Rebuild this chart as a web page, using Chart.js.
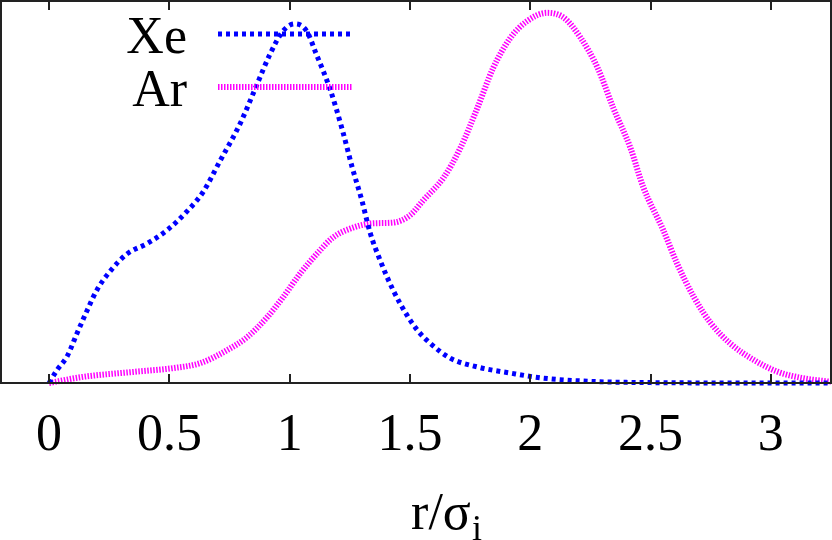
<!DOCTYPE html>
<html>
<head>
<meta charset="utf-8">
<script src="https://cdn.jsdelivr.net/npm/chart.js@4/dist/chart.umd.min.js"></script>
<style>
html,body{margin:0;padding:0;background:#fff;}
#wrap{width:832px;height:540px;position:relative;}
</style>
</head>
<body>
<div id="wrap"><canvas id="c" width="832" height="540"></canvas></div>
<script>
// ---- data ----
const seriesNames = ["Xe", "Ar"];
const xeR = [0, 0.033, 0.075, 0.116, 0.158, 0.2, 0.254, 0.324, 0.407, 0.49, 0.574, 0.64, 0.711, 0.794, 0.865, 0.919, 0.973, 1.02, 1.07, 1.11, 1.17, 1.22, 1.26, 1.30, 1.335, 1.376, 1.43, 1.49, 1.535, 1.584, 1.667, 1.78, 1.917, 2.05, 2.26, 2.5, 3.0, 3.25];
const xeG = [0, 0.034, 0.07, 0.13, 0.19, 0.245, 0.293, 0.338, 0.365, 0.40, 0.45, 0.50, 0.582, 0.679, 0.783, 0.862, 0.922, 0.94, 0.922, 0.862, 0.765, 0.66, 0.564, 0.478, 0.392, 0.321, 0.243, 0.175, 0.135, 0.104, 0.065, 0.042, 0.026, 0.013, 0.004, 0.001, 0, 0];
const arR = [0, 0.14, 0.35, 0.516, 0.628, 0.74, 0.823, 0.906, 0.973, 1.044, 1.114, 1.18, 1.264, 1.347, 1.43, 1.50, 1.555, 1.64, 1.71, 1.78, 1.846, 1.917, 1.988, 2.07, 2.14, 2.21, 2.28, 2.345, 2.416, 2.47, 2.553, 2.61, 2.68, 2.75, 2.83, 2.93, 3.03, 3.13, 3.25];
const arG = [0, 0.016, 0.029, 0.039, 0.052, 0.086, 0.12, 0.172, 0.225, 0.287, 0.339, 0.381, 0.407, 0.418, 0.42, 0.439, 0.478, 0.538, 0.616, 0.72, 0.825, 0.903, 0.948, 0.969, 0.956, 0.903, 0.825, 0.72, 0.616, 0.512, 0.40, 0.313, 0.225, 0.157, 0.104, 0.06, 0.029, 0.013, 0.003];
const tickValues = [0, 0.5, 1, 1.5, 2, 2.5, 3];
const tickLabels = ["0", "0.5", "1", "1.5", "2", "2.5", "3"];
const axisTitle = "r/σ";
const axisTitleSub = "i";

const FONT = '"Liberation Serif", "Times New Roman", serif';

function pts(xs, ys){ return xs.map((x,i)=>({x:x, y:ys[i]})); }

const framePlugin = {
  id: 'frame',
  afterDatasetsDraw(chart){
    const ctx = chart.ctx, a = chart.chartArea, xs = chart.scales.x;
    ctx.save();
    ctx.strokeStyle = '#222';
    ctx.lineWidth = 2;
    ctx.strokeRect(a.left, a.top, a.right - a.left, a.bottom - a.top);
    ctx.beginPath();
    tickValues.forEach(v=>{
      const px = Math.round(xs.getPixelForValue(v));
      ctx.moveTo(px, a.bottom); ctx.lineTo(px, a.bottom - 9);
      ctx.moveTo(px, a.top); ctx.lineTo(px, a.top + 9);
    });
    ctx.stroke();
    // legend
    ctx.font = '52px ' + FONT;
    ctx.fillStyle = '#000';
    ctx.textAlign = 'right';
    ctx.textBaseline = 'alphabetic';
    const rows = [{ty:53, ly:34}, {ty:106, ly:87}];
    chart.data.datasets.forEach((ds, i)=>{
      const r = rows[i];
      ctx.fillText(ds.label, a.left + 186, r.ty);
      ctx.save();
      ctx.strokeStyle = ds.borderColor;
      ctx.lineWidth = ds.borderWidth;
      ctx.setLineDash(ds.borderDash);
      ctx.beginPath();
      ctx.moveTo(a.left + 217, r.ly); ctx.lineTo(a.left + 352, r.ly);
      ctx.stroke();
      ctx.restore();
    });
    // axis title with subscript
    ctx.textAlign = 'left';
    ctx.font = '52px ' + FONT;
    const w = ctx.measureText(axisTitle).width;
    ctx.font = '36px ' + FONT;
    const ws = ctx.measureText(axisTitleSub).width;
    const cx = (a.left + a.right) / 2 + 30;
    const x0 = cx - (w + ws) / 2;
    ctx.font = '52px ' + FONT;
    ctx.fillText(axisTitle, x0, 529);
    ctx.font = '36px ' + FONT;
    ctx.fillText(axisTitleSub, x0 + w + 1, 540);
    ctx.restore();
  }
};

new Chart(document.getElementById('c'), {
  type: 'line',
  data: {
    datasets: [
      { label: seriesNames[0], data: pts(xeR, xeG), borderColor: '#0000ff', borderWidth: 5, borderDash: [4,4], pointRadius: 0, cubicInterpolationMode: 'monotone', fill: false, clip: 10 },
      { label: seriesNames[1], data: pts(arR, arG), borderColor: '#ff00ff', borderWidth: 6, borderDash: [1.5,1.5], pointRadius: 0, cubicInterpolationMode: 'monotone', fill: false, clip: 10 }
    ]
  },
  options: {
    responsive: false,
    animation: false,
    layout: { padding: { left: 1, right: 1, top: 1, bottom: 0 } },
    plugins: { legend: { display: false }, tooltip: { enabled: false } },
    scales: {
      x: {
        type: 'linear', min: -0.2, max: 3.25,
        grid: { display: false, drawTicks: false },
        border: { display: false },
        afterBuildTicks(scale){ scale.ticks = tickValues.map(v=>({value:v})); },
        afterFit(scale){ scale.height = 157; },
        ticks: {
          color: '#000', padding: 22, maxRotation: 0, autoSkip: false,
          font: { family: FONT, size: 52 },
          callback(v){ const i = tickValues.indexOf(v); return i >= 0 ? tickLabels[i] : ''; }
        }
      },
      y: { display: false, min: 0, max: 1 }
    }
  },
  plugins: [framePlugin]
});
</script>
</body>
</html>
